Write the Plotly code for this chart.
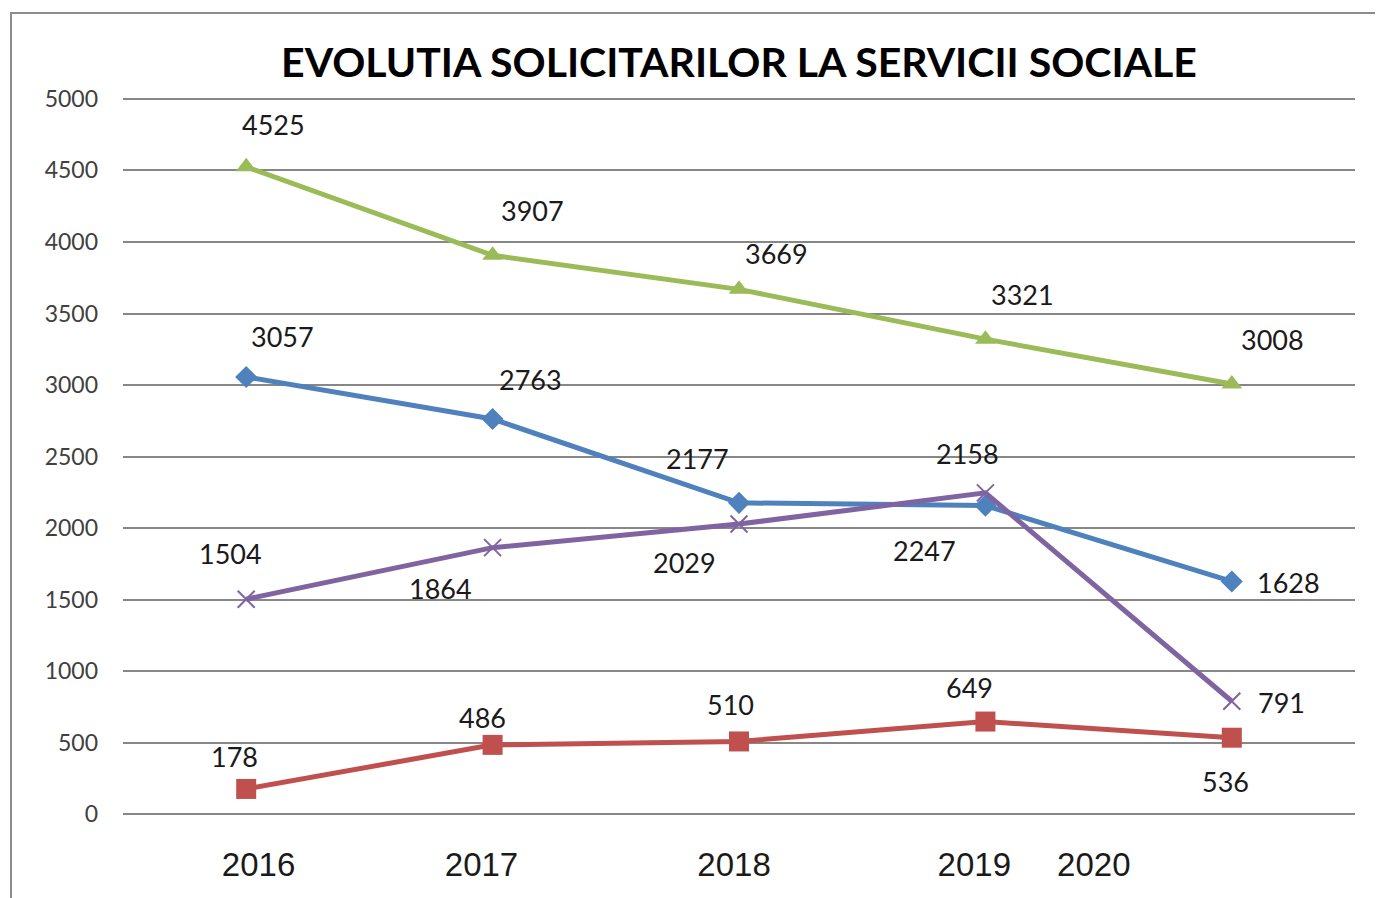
import plotly.graph_objects as go

# Data
x_idx = [0, 1, 2, 3, 4]
series_green = [4525, 3907, 3669, 3321, 3008]
series_blue = [3057, 2763, 2177, 2158, 1628]
series_purple = [1504, 1864, 2029, 2247, 791]
series_red = [178, 486, 510, 649, 536]
year_labels = ["2016", "2017", "2018", "2019", "2020"]
year_label_pos = [0.05, 0.955, 1.98, 2.955, 3.44]
y_ticks = [0, 500, 1000, 1500, 2000, 2500, 3000, 3500, 4000, 4500, 5000]
title_text = "EVOLUTIA SOLICITARILOR LA SERVICII SOCIALE"

GREEN = "#9BBB59"
BLUE = "#4F81BD"
PURPLE = "#8064A2"
RED = "#C0504D"

fig = go.Figure()

def add_series(vals, color, symbol, size, mline=None):
    marker = dict(symbol=symbol, size=size, color=color)
    if mline:
        marker["line"] = dict(color=color, width=mline)
    fig.add_trace(go.Scatter(x=x_idx, y=vals, mode="lines+markers",
                             line=dict(color=color, width=5),
                             marker=marker, showlegend=False))

add_series(series_green, GREEN, "triangle-up", 18)
add_series(series_blue, BLUE, "diamond", 17)
add_series(series_purple, PURPLE, "x-thin", 17, mline=2)
add_series(series_red, RED, "square", 20)

# label offsets (pixels) per series
off_green = [(27, 42), (40, 45), (37, 36), (37, 45), (41, 44)]
off_blue = [(36, 40), (38, 40), (-42, 44), (-18, 52), (57, -1)]
off_purple = [(-16, 46), (-52, -41), (-55, -38), (-61, -58), (50, -1)]
off_red = [(-12, 32), (-10, 27), (-9, 37), (-16, 34), (-6, -44)]

label_font = dict(family="Lato, Open Sans, sans-serif", size=27, color="#1a1a1a")
for vals, offs in [(series_green, off_green), (series_blue, off_blue),
                   (series_purple, off_purple), (series_red, off_red)]:
    for xi, v, (dx, dy) in zip(x_idx, vals, offs):
        fig.add_annotation(x=xi, y=v, text=str(v), showarrow=False,
                           xshift=dx, yshift=dy, font=label_font)

# outer border
fig.add_shape(type="rect", xref="paper", yref="paper",
              x0=(11 - 123) / 1232, x1=1.2, y0=-0.3, y1=(815 - 13) / 719,
              line=dict(color="#8c8c8c", width=2), fillcolor="rgba(0,0,0,0)")

fig.update_layout(
    width=1375, height=890,
    margin=dict(l=115, r=28, t=88, b=83),
    paper_bgcolor="white", plot_bgcolor="white",
    title=dict(text="<b>" + title_text + "</b>", x=0.5, xref="paper",
               y=1 - 55 / 890, yref="container", yanchor="middle", xanchor="center",
               font=dict(family="Lato, Open Sans, sans-serif", size=41, color="#000000")),
    xaxis=dict(range=[-0.5, 4.5], tickvals=year_label_pos, ticktext=year_labels,
               showgrid=False, zeroline=False, showline=False, ticks="",
               tickfont=dict(family="Liberation Sans, Arial, sans-serif", size=33, color="#1a1a1a"),
               ticklabelstandoff=27),
    yaxis=dict(range=[-4, 5020], tickvals=y_ticks,
               showgrid=True, gridcolor="#878787", gridwidth=2,
               zeroline=True, zerolinecolor="#878787", zerolinewidth=2,
               showline=False, ticks="",
               tickfont=dict(family="Lato, Open Sans, sans-serif", size=23, color="#404040"),
               ticklabelstandoff=24),
)

fig.write_html("out.html")
